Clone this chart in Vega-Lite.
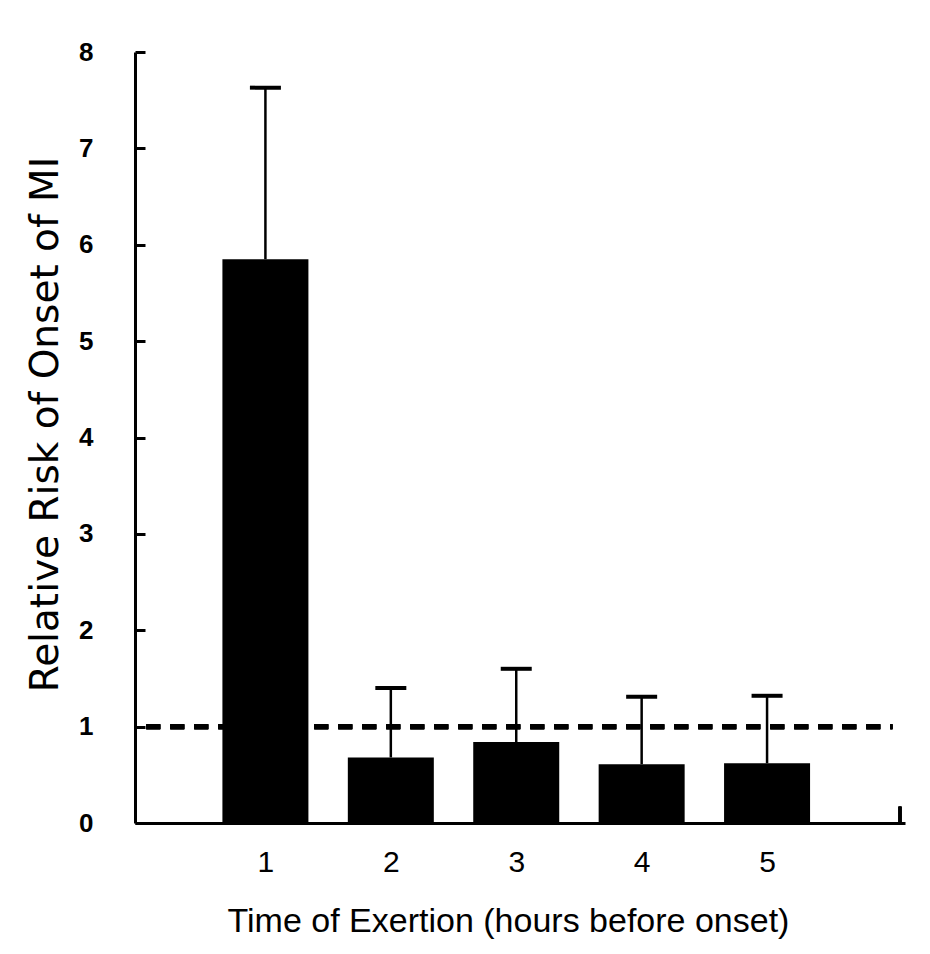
{
  "$schema": "https://vega.github.io/schema/vega-lite/v6.json",
  "width": 770,
  "height": 771,
  "autosize": {"type": "none"},
  "padding": {"left": 135, "top": 52, "right": 25, "bottom": 131},
  "background": "white",
  "config": {"view": {"stroke": null}, "font": "Liberation Sans"},
  "data": {
    "values": [
      {"hour": 1, "rr": 5.85, "upper": 7.63},
      {"hour": 2, "rr": 0.68, "upper": 1.4},
      {"hour": 3, "rr": 0.84, "upper": 1.6},
      {"hour": 4, "rr": 0.61, "upper": 1.31},
      {"hour": 5, "rr": 0.62, "upper": 1.32}
    ]
  },
  "layer": [
    {
      "mark": {"type": "bar", "width": 86, "color": "black"},
      "encoding": {
        "x": {
          "field": "hour", "type": "quantitative",
          "scale": {"domain": [0, 6.06], "nice": false, "zero": false},
          "axis": {
            "values": [1, 2, 3, 4, 5], "format": "d", "ticks": false, "grid": false,
            "domainWidth": 3, "domainColor": "black",
            "labelFontSize": 30, "labelPadding": 24, "labelColor": "black",
            "title": "Time of Exertion (hours before onset)",
            "titleX": 373,
            "titleFontSize": 34, "titleFontWeight": "normal", "titlePadding": 27, "titleColor": "black"
          }
        },
        "y": {
          "field": "rr", "type": "quantitative",
          "scale": {"domain": [0, 8], "nice": false},
          "axis": {
            "values": [0, 1, 2, 3, 4, 5, 6, 7, 8], "format": "d", "grid": false,
            "tickSize": -10, "tickWidth": 3, "tickColor": "black",
            "domainWidth": 3, "domainColor": "black",
            "labelFontSize": 26, "labelFontWeight": "bold", "labelPadding": 52, "labelColor": "black",
            "title": "Relative Risk of Onset of MI",
            "titleFont": "DejaVu Sans",
            "titleY": 372,
            "titleFontSize": 39, "titleFontWeight": "normal", "titlePadding": 13, "titleColor": "black"
          }
        }
      }
    },
    {
      "mark": {"type": "rule", "strokeWidth": 2.5, "color": "black"},
      "encoding": {
        "x": {"field": "hour", "type": "quantitative"},
        "y": {"field": "rr", "type": "quantitative"},
        "y2": {"field": "upper"}
      }
    },
    {
      "mark": {"type": "tick", "orient": "horizontal", "size": 31, "thickness": 4, "color": "black", "opacity": 1},
      "encoding": {
        "x": {"field": "hour", "type": "quantitative"},
        "y": {"field": "upper", "type": "quantitative"}
      }
    },
    {
      "mark": {"type": "rule", "strokeDash": [14, 10], "strokeWidth": 5, "color": "black"},
      "encoding": {"y": {"datum": 1}, "x": {"datum": 0.05}, "x2": {"datum": 6.0}}
    },
    {
      "mark": {"type": "rule", "strokeWidth": 3, "color": "black"},
      "encoding": {"x": {"datum": 6.06}, "y": {"datum": 0}, "y2": {"datum": 0.17}}
    }
  ]
}
